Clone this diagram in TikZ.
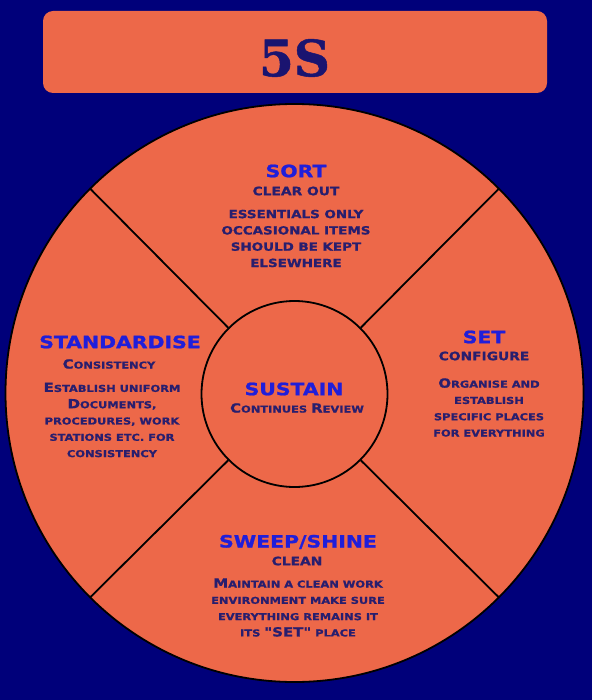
\documentclass[tikz,border=0pt]{standalone}
\usepackage{fontspec}
\newfontfamily\cop{DejaVu Sans Bold}[FakeStretch=1.2, FakeBold=1.2]
\newfontfamily\titlefont{DejaVu Serif Bold}[FakeBold=1]
\definecolor{navybg}{RGB}{0,0,122}
\definecolor{orng}{RGB}{237,104,73}
\definecolor{headblue}{RGB}{32,30,218}
\definecolor{darktxt}{RGB}{40,30,110}
\definecolor{titletxt}{RGB}{26,20,112}
\newcommand\Bg[1]{{\fontsize{12.5}{16.3}\selectfont #1}}
\tikzset{
  head/.style={font=\cop\fontsize{17}{20}\selectfont, text=headblue, inner sep=0pt},
  subhead/.style={font=\cop\fontsize{11.5}{16.3}\selectfont, text=darktxt, inner sep=0pt},
  sc/.style={font=\cop\fontsize{9.5}{16.3}\selectfont, text=darktxt, inner sep=0pt, align=center},
  caps/.style={font=\cop\fontsize{11.2}{16.3}\selectfont, text=darktxt, inner sep=0pt, align=center},
  ring/.style={circle, draw=black, line width=1.8pt, fill=orng, inner sep=0pt},
  divider/.style={draw=black, line width=1.8pt}
}
\begin{document}
\begin{tikzpicture}[x=1pt,y=-1pt]
\useasboundingbox (0,0) rectangle (592,700);
\fill[navybg] (0,0) rectangle (592,700);
% title
\node[fill=orng, rounded corners=10pt, minimum width=504pt, minimum height=82pt, inner sep=0pt] (titlebox) at (295,52) {};
\node[font=\titlefont\fontsize{50}{52}\selectfont, text=titletxt, inner sep=0pt] (title) at (294.5,58) {5S};
% circles
\node[ring, minimum size=578pt] (outer) at (294.5,393) {};
\node[ring, minimum size=186pt] (inner) at (294.5,394) {};
\draw[divider] (inner.45) -- (outer.45);
\draw[divider] (inner.135) -- (outer.135);
\draw[divider] (inner.225) -- (outer.225);
\draw[divider] (inner.315) -- (outer.315);
% SORT
\node[head] (sort) at (296,171) {SORT};
\node[subhead] (sortsub) at (296,191) {CLEAR OUT};
\node[caps] (sortbody) at (296,238.5) {ESSENTIALS ONLY\\OCCASIONAL ITEMS\\SHOULD BE KEPT\\ELSEWHERE};
% STANDARDISE
\node[head] (std) at (120,342) {STANDARDISE};
\node[sc] (stdsub) at (109,364) {\Bg{C}ONSISTENCY};
\node[sc] (stdbody) at (112,420) {\Bg{E}STABLISH UNIFORM\\\Bg{D}OCUMENTS,\\PROCEDURES, WORK\\STATIONS ETC. FOR\\CONSISTENCY};
% SET
\node[head] (set) at (484,337) {SET};
\node[subhead] (setsub) at (484,356) {CONFIGURE};
\node[sc] (setbody) at (489,407.5) {\Bg{O}RGANISE AND\\ESTABLISH\\SPECIFIC PLACES\\FOR EVERYTHING};
% SUSTAIN
\node[head] (sus) at (294,389) {SUSTAIN};
\node[sc] (sussub) at (297,408) {\Bg{C}ONTINUES \Bg{R}EVIEW};
% SWEEP/SHINE
\node[head] (sweep) at (298,542) {SWEEP/SHINE};
\node[subhead] (sweepsub) at (297,561) {CLEAN};
\node[sc] (sweepbody) at (298,607.5) {\Bg{M}AINTAIN A CLEAN WORK\\ENVIRONMENT MAKE SURE\\EVERYTHING REMAINS IT\\ITS \Bg{"SET"} PLACE};
\end{tikzpicture}
\end{document}
